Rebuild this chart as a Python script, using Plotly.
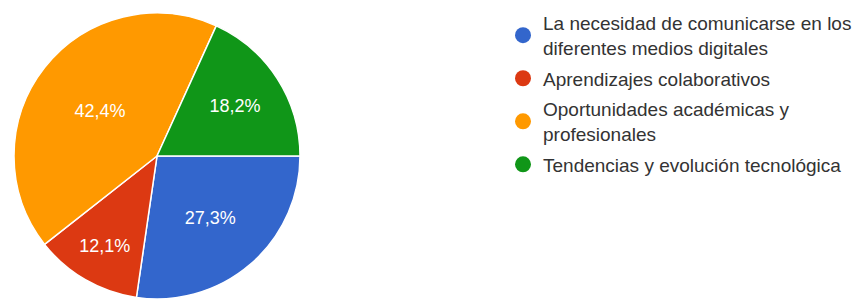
import plotly.graph_objects as go

categories = [
    "La necesidad de comunicarse en los<br>diferentes medios digitales",
    "Aprendizajes colaborativos",
    "Oportunidades académicas y<br>profesionales",
    "Tendencias y evolución tecnológica",
]
values = [27.3, 12.1, 42.4, 18.2]
colors = ["#3366cc", "#dc3912", "#ff9900", "#109618"]

W, H = 857, 299
FONT = "Arial, Liberation Sans, sans-serif"

fig = go.Figure()
fig.add_trace(go.Pie(
    labels=categories,
    values=values,
    sort=False,
    direction="clockwise",
    rotation=90,
    marker=dict(colors=colors, line=dict(color="white", width=1.5)),
    texttemplate="%{percent:.1%}",
    textposition="inside",
    insidetextorientation="horizontal",
    textfont=dict(color="white", size=18, family=FONT),
    hoverinfo="none",
    showlegend=False,
    domain=dict(x=[13 / W, 301 / W], y=[0, 1 - 13 / H]),
))

for i, (name, col) in enumerate(zip(categories, colors)):
    fig.add_trace(go.Scatter(
        x=[None], y=[None], mode="markers", name=name,
        legendgroup=f"g{i}",
        marker=dict(color=col, size=16, symbol="circle"),
        hoverinfo="none", showlegend=True,
    ))

fig.update_layout(
    width=W, height=H,
    margin=dict(l=0, r=0, t=0, b=0),
    paper_bgcolor="white",
    plot_bgcolor="white",
    separators=",.",
    font=dict(family=FONT),
    xaxis=dict(visible=False),
    yaxis=dict(visible=False),
    legend=dict(
        x=503 / W, y=1 - 4 / H, xanchor="left", yanchor="top",
        font=dict(size=19, color="#333333", family=FONT),
        bgcolor="rgba(0,0,0,0)",
        itemclick=False, itemdoubleclick=False,
        tracegroupgap=3,
        maxheight=600,
    ),
)

fig.write_html(
    "out.html",
    config={"displayModeBar": False},
    post_script="document.body.style.margin='0';document.body.style.overflow='hidden';",
)
